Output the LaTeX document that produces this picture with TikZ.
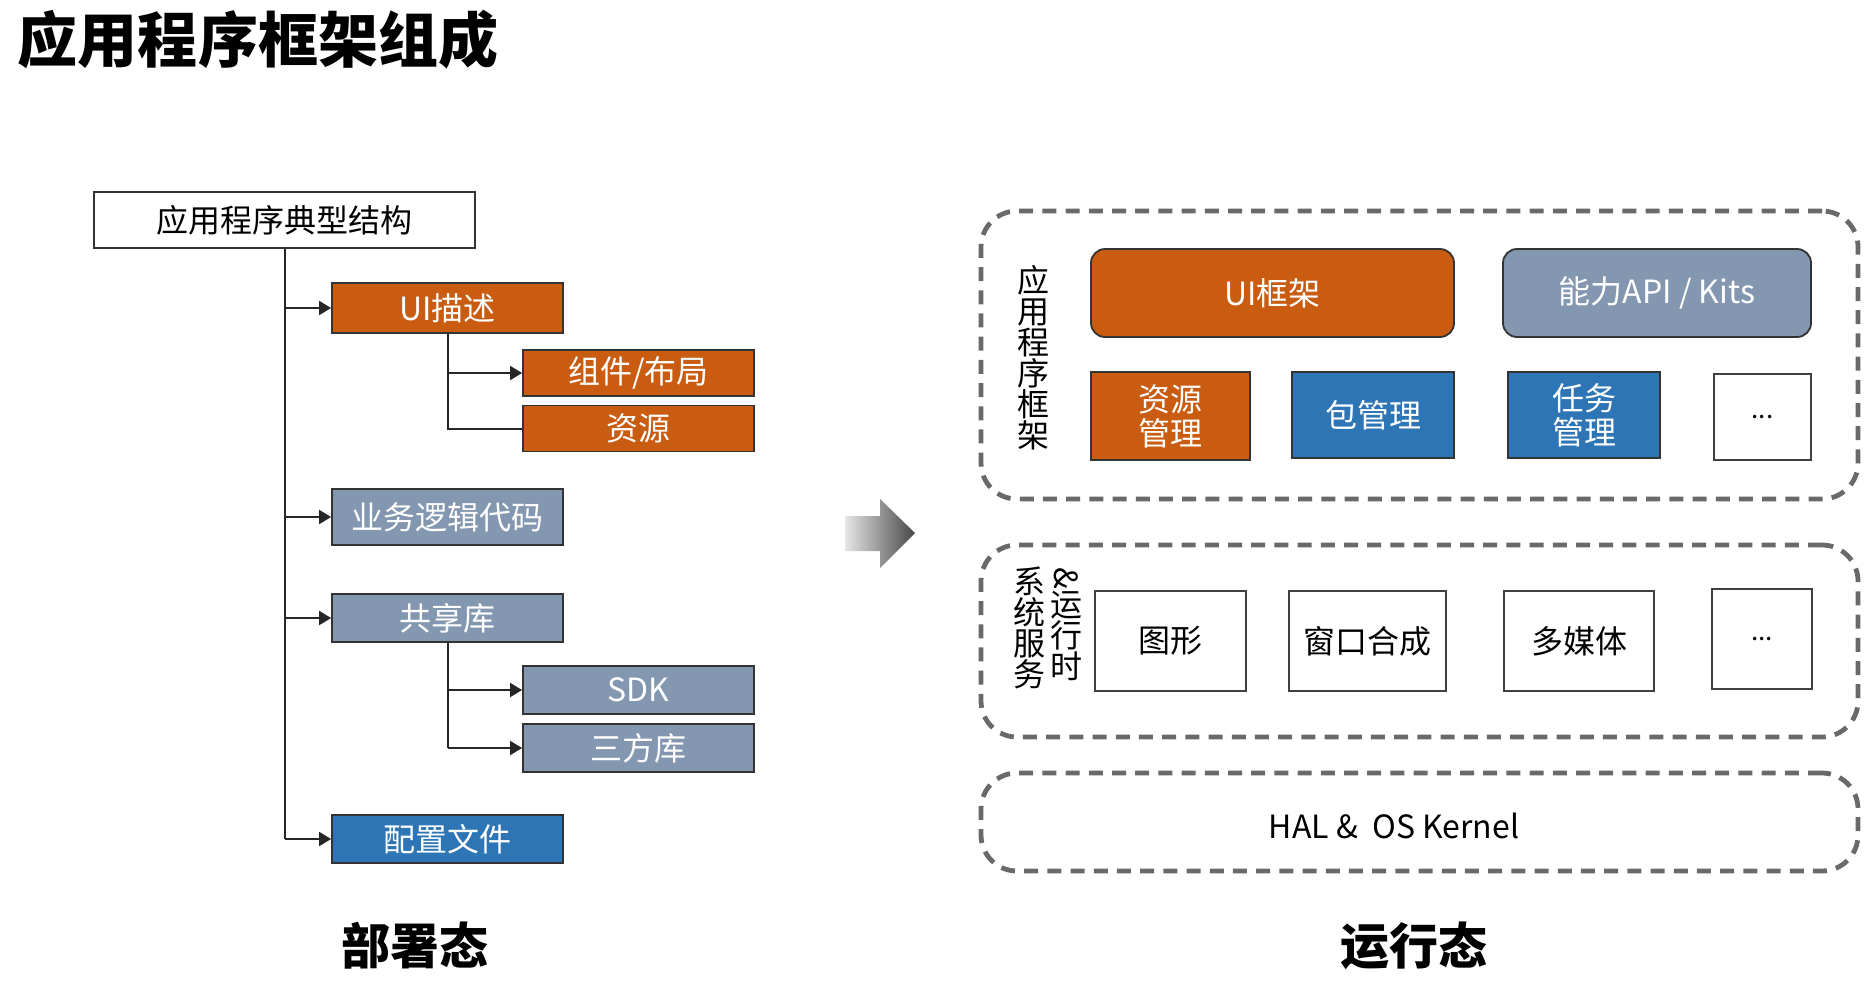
\documentclass[tikz,border=0pt]{standalone}
\usepackage{fontspec}
\setmainfont{Noto Sans CJK SC}
\usetikzlibrary{arrows.meta}
\usepackage{xcolor}
\definecolor{hwOrange}{RGB}{201,92,16}
\definecolor{hwGrayBlue}{RGB}{132,151,176}
\definecolor{hwBlue}{RGB}{46,117,182}
\definecolor{dashGray}{RGB}{105,105,105}

\begin{document}
\begin{tikzpicture}[x=0.5pt,y=0.5pt,yscale=-1,xscale=1,
  every node/.style={inner sep=0pt,font=\fontsize{16}{19}\selectfont},
  conn/.style={draw=black!85,line width=1pt},
  arr/.style={conn,-{Triangle[length=6pt,width=7pt]}},
  treebox/.style={draw=black!80,line width=0.9pt,minimum width=115.5pt,minimum height=24pt,text=white},
  flatbox/.style={draw=black!80,line width=0.9pt,minimum height=44pt,text=white,align=center,font=\fontsize{16}{17}\selectfont},
  roundbox/.style={flatbox,rounded corners=7pt,minimum width=#1},
  plainbox/.style={draw=black!75,line width=0.9pt,fill=white,minimum height=50pt},
  layer/.style={draw=dashGray,line width=2.4pt,dash pattern=on 7pt off 4.6pt,rounded corners=18pt,minimum width=438.5pt}]
\useasboundingbox (0,0) rectangle (1871,982);

% Title
\node[font=\fontsize{30}{34}\selectfont\bfseries] (title) at (258,40) {应用程序框架组成};

%Tree: deployment
\node[treebox,text=black,fill=white,minimum width=190.5pt,minimum height=28pt] (root) at (284.5,220) {应用程序典型结构};
\node[treebox,fill=hwOrange,minimum height=25pt] (ui) at (447.5,308) {UI描述};
\node[treebox,fill=hwOrange,minimum height=23pt] (comp) at (638.5,373) {组件/布局};
\node[treebox,fill=hwOrange,minimum height=23pt] (res) at (638.5,428.5) {资源};
\node[treebox,fill=hwGrayBlue,minimum height=28pt] (biz) at (447.5,517) {业务逻辑代码};
\node[treebox,fill=hwGrayBlue] (shlib) at (447.5,618) {共享库};
\node[treebox,fill=hwGrayBlue] (sdk) at (638.5,690) {SDK};
\node[treebox,fill=hwGrayBlue] (third) at (638.5,748) {三方库};
\node[treebox,fill=hwBlue] (cfg) at (447.5,839) {配置文件};

%Connectors
\draw[conn] (root.south) -- (root.south |- cfg.west);
\foreach \b in {ui,biz,shlib,cfg}
  \draw[arr] (root.south |- \b.west) -- (\b.west);
\draw[conn] (ui.south) -- (ui.south |- res.west) -- (res.west);
\draw[arr] (ui.south |- comp.west) -- (comp.west);
\draw[conn] (shlib.south) -- (shlib.south |- third.west);
\draw[arr] (shlib.south |- sdk.west) -- (sdk.west);
\draw[arr] (shlib.south |- third.west) -- (third.west);

%Shape: big arrow
\shade[left color=gray!20,right color=black!72] (845,516) -- (880,516) -- (880,499) -- (915,533) -- (880,568) -- (880,551) -- (845,551) -- cycle;

%Layers: runtime
\node[layer,minimum height=144pt] (appfw) at (1419.5,355) {};
\node[layer,minimum height=96pt] (sysrt) at (1419.5,641) {};
\node[layer,minimum height=49pt] (kern) at (1419.5,822) {};
\node (kernlbl) at (1394,826) {HAL \&\ \ OS Kernel};

% Text Node
\node[align=center,font=\fontsize{16}{15.5}\selectfont] (appfwlbl) at (1033,358) {应\\用\\程\\序\\框\\架};
\node[align=center,font=\fontsize{16}{15.5}\selectfont] (syslbl) at (1029,628) {系\\统\\服\\务};
\node[align=center,font=\fontsize{16}{15.5}\selectfont] (rtlbl) at (1066,624) {\rotatebox{-90}{\&}\\运\\行\\时};

%Boxes: application framework
\node[roundbox=181.5pt,fill=hwOrange] (uifw) at (1272.5,293) {UI框架};
\node[roundbox=154pt,fill=hwGrayBlue] (api) at (1657,293) {能力API / Kits};
\node[flatbox,fill=hwOrange,minimum width=79.5pt] (resmgr) at (1170.5,416) {资源\\管理};
\node[flatbox,fill=hwBlue,minimum width=81pt,minimum height=43pt] (pkgmgr) at (1373,415) {包管理};
\node[flatbox,fill=hwBlue,minimum width=76pt,minimum height=43pt] (taskmgr) at (1584,415) {任务\\管理};
\node[plainbox,minimum width=48.5pt,minimum height=43pt,font=\fontsize{13}{15}\selectfont] (more1) at (1762.5,417) {...};

%Boxes: system services
\node[plainbox,minimum width=75.5pt] (gfx) at (1170.5,641) {图形};
\node[plainbox,minimum width=78.5pt] (win) at (1367.5,641) {窗口合成};
\node[plainbox,minimum width=75pt] (media) at (1579,641) {多媒体};
\node[plainbox,minimum width=50pt,font=\fontsize{13}{15}\selectfont] (more2) at (1762,639) {...};

% Text Node
\node[font=\fontsize{24.5}{28}\selectfont\bfseries] (deploy) at (415,946) {部署态};
\node[font=\fontsize{24.5}{28}\selectfont\bfseries] (runst) at (1414,946) {运行态};

\end{tikzpicture}
\end{document}
